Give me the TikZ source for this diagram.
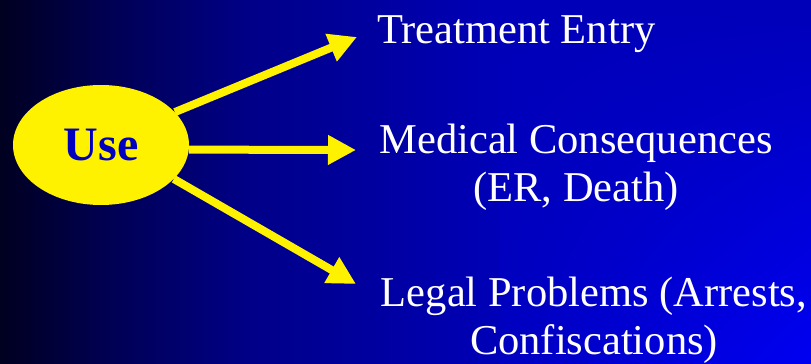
\documentclass[tikz,border=0pt]{standalone}
\usepackage{fontspec}
\setmainfont{Liberation Serif}
\usetikzlibrary{arrows.meta,shapes.geometric,shadings}
\definecolor{bg0}{HTML}{000020}
\definecolor{bg1}{HTML}{000050}
\definecolor{bg2}{HTML}{000088}
\definecolor{bg3}{HTML}{0000B8}
\definecolor{bg4t}{HTML}{0000B8}
\definecolor{bg3b}{HTML}{0000C0}
\definecolor{bg4b}{HTML}{0000F2}
\definecolor{usetext}{HTML}{0000C0}
\tikzset{
  label text/.style={text=white, font=\fontsize{42.5}{48}\selectfont, align=center, inner sep=0pt},
  yarrow/.style={draw=yellow, line width=8pt, -{Triangle[length=28pt,width=28pt]}},
}
\begin{document}
\begin{tikzpicture}[x=1pt,y=-1pt]
\useasboundingbox (0,0) rectangle (811,364);
% background
\shade[left color=bg0, right color=bg1] (0,0) rectangle (100.5,364);
\shade[left color=bg1, right color=bg2] (100,0) rectangle (250.5,364);
\shade[left color=bg2, right color=bg3] (250,0) rectangle (500.5,364);
\shade[upper left=bg3, lower left=bg3b, upper right=bg4t, lower right=bg4b] (500,0) rectangle (811,364);
% nodes
\node[ellipse, fill=yellow, minimum width=176pt, minimum height=120pt, inner sep=0pt,
      text=usetext, font=\fontsize{48}{50}\selectfont\bfseries] (use) at (101,145) {Use};
\coordinate (t1) at (357,37);
\coordinate (t2) at (356,150);
\coordinate (t3) at (356,284);
\draw[yarrow] (use.24) -- (t1);
\draw[yarrow] (use.-3) -- (t2);
\draw[yarrow] (use.-25) -- (t3);
\node[label text, anchor=base west] (treat) at (377,43) {Treatment Entry};
\node[label text, anchor=base] (med) at (576,201) {Medical Consequences\\(ER, Death)};
\node[label text, anchor=base] (legal) at (594,354) {Legal Problems (Arrests,\\Confiscations)};
\end{tikzpicture}
\end{document}
